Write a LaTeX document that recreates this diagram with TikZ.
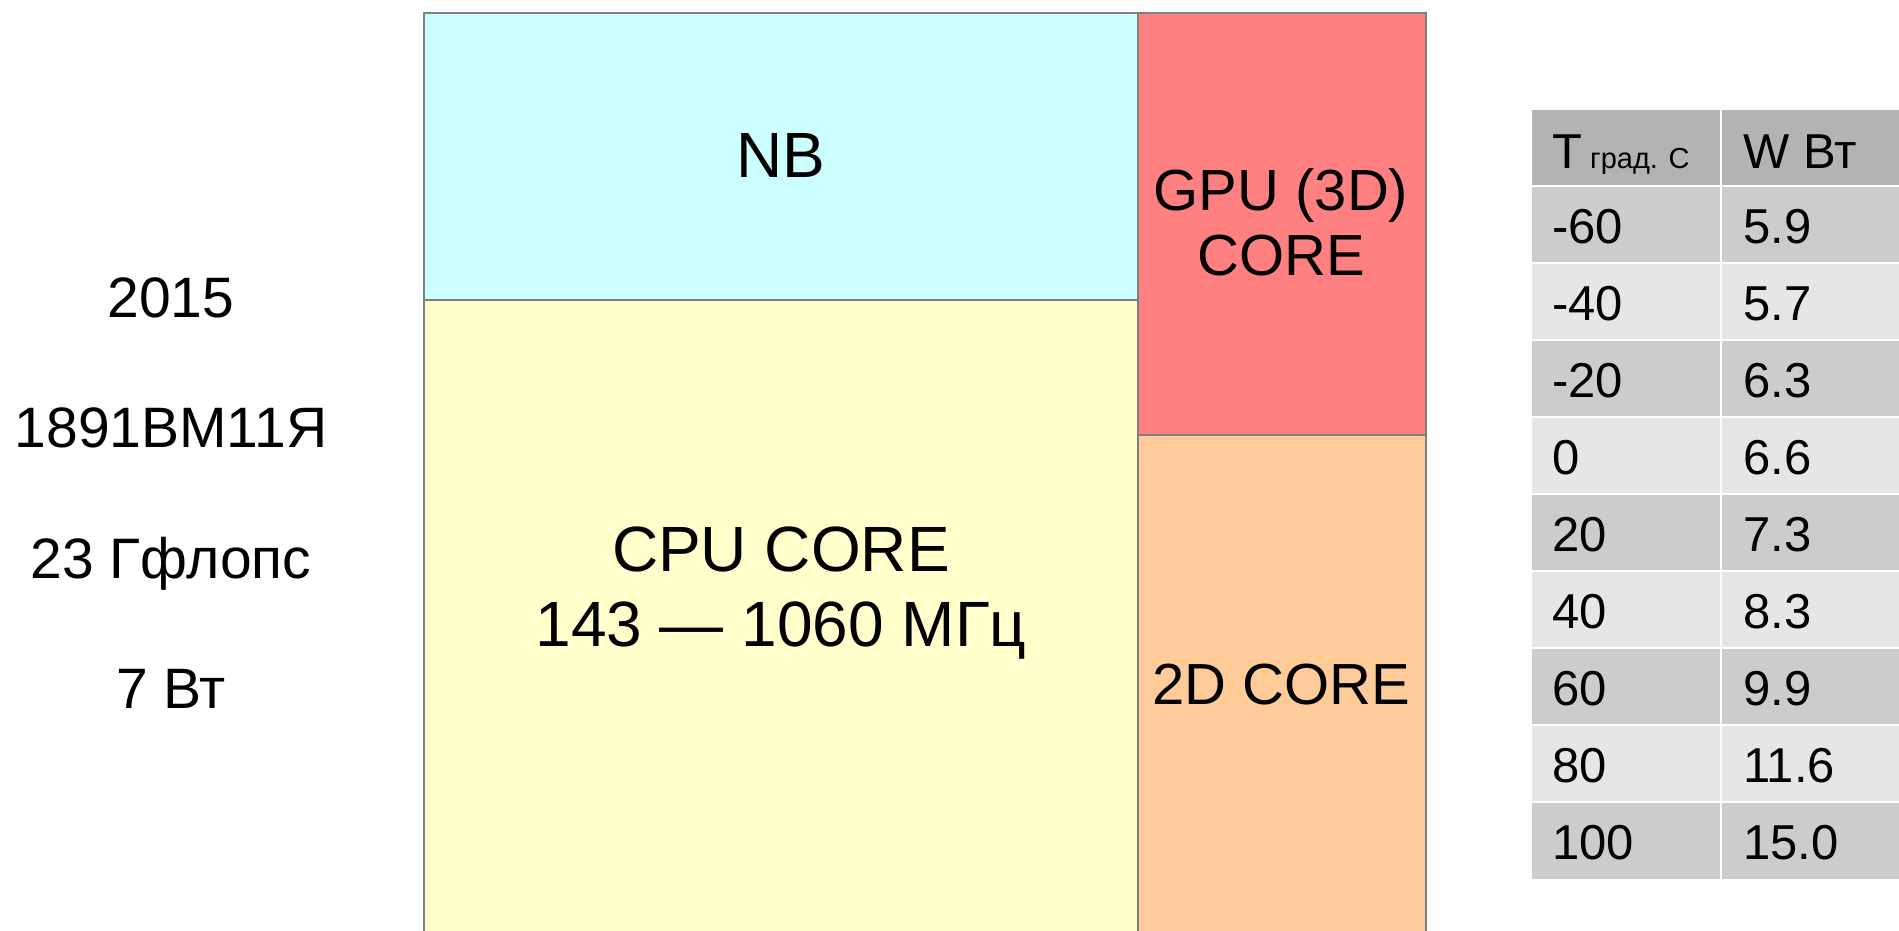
\documentclass[tikz,border=0pt]{standalone}
\usepackage{fontspec}
\setmainfont{Liberation Sans}
\definecolor{nbc}{HTML}{CCFFFF}
\definecolor{cpuc}{HTML}{FFFFCC}
\definecolor{gpuc}{HTML}{FF8080}
\definecolor{twodc}{HTML}{FFCC99}
\definecolor{edgec}{HTML}{808080}
\definecolor{hdrc}{HTML}{B3B3B3}
\definecolor{rowa}{HTML}{CCCCCC}
\definecolor{rowb}{HTML}{E6E6E6}
\begin{document}
\begin{tikzpicture}[x=1pt,y=-1pt,
  blk/.style={draw=edgec,line width=2pt},
  lbl/.style={inner sep=0pt,anchor=base},
  bigtxt/.style={lbl,font=\fontsize{64}{74}\selectfont},
  midtxt/.style={lbl,font=\fontsize{58}{66}\selectfont},
  lefttxt/.style={lbl,font=\fontsize{57}{66}\selectfont},
  cell/.style={inner sep=0pt,anchor=base west,font=\fontsize{49}{58}\selectfont},
  sep/.style={draw=white,line width=2pt},
]
\useasboundingbox (0,0) rectangle (1899,931);
\clip (0,0) rectangle (1899,931);
\fill[white] (0,0) rectangle (1899,931);

% chip blocks
\filldraw[blk,fill=nbc] (424,12.7) rectangle (1138,300);
\filldraw[blk,fill=cpuc] (424,300) rectangle (1138,960);
\filldraw[blk,fill=gpuc] (1138,12.7) rectangle (1426,435);
\filldraw[blk,fill=twodc] (1138,435) rectangle (1426,960);

\node[bigtxt] (nb) at (781,177.7) {NB};
\node[bigtxt] (cpu1) at (781,571) {CPU CORE};
\node[bigtxt] (cpu2) at (781,646) {143 — 1060 МГц};
\node[midtxt] (gpu1) at (1281,210) {GPU (3D)};
\node[midtxt] (gpu2) at (1281,275) {CORE};
\node[midtxt] (twod) at (1281,704) {2D CORE};

% left info
\node[lefttxt] (year) at (171,317) {2015};
\node[lefttxt] (chip) at (171,447) {1891ВМ11Я};
\node[lefttxt] (perf) at (171,578) {23 Гфлопс};
\node[lefttxt] (pow) at (171,708) {7 Вт};

% table
\fill[hdrc] (1532,110) rectangle (1899,186);
\foreach \i in {0,...,8}{
  \pgfmathtruncatemacro{\odd}{mod(\i,2)}
  \ifnum\odd=0
    \fill[rowa] (1532,186+77*\i) rectangle (1899,263+77*\i);
  \else
    \fill[rowb] (1532,186+77*\i) rectangle (1899,263+77*\i);
  \fi
}
\foreach \i in {0,...,8}{
  \draw[sep] (1532,186+77*\i) -- (1899,186+77*\i);
}
\draw[sep] (1721,110) -- (1721,879);

\node[cell] (h1) at (1552,168) {T{\fontsize{29}{34}\selectfont\ град. С}};
\node[cell] (h2) at (1743,168) {W Вт};
\foreach \t/\w [count=\k from 0] in {-60/5.9,-40/5.7,-20/6.3,0/6.6,20/7.3,40/8.3,60/9.9,80/11.6,100/15.0}{
  \node[cell] (t\k) at (1552,243+77*\k) {\t};
  \node[cell] (w\k) at (1743,243+77*\k) {\w};
}
\end{tikzpicture}
\end{document}
